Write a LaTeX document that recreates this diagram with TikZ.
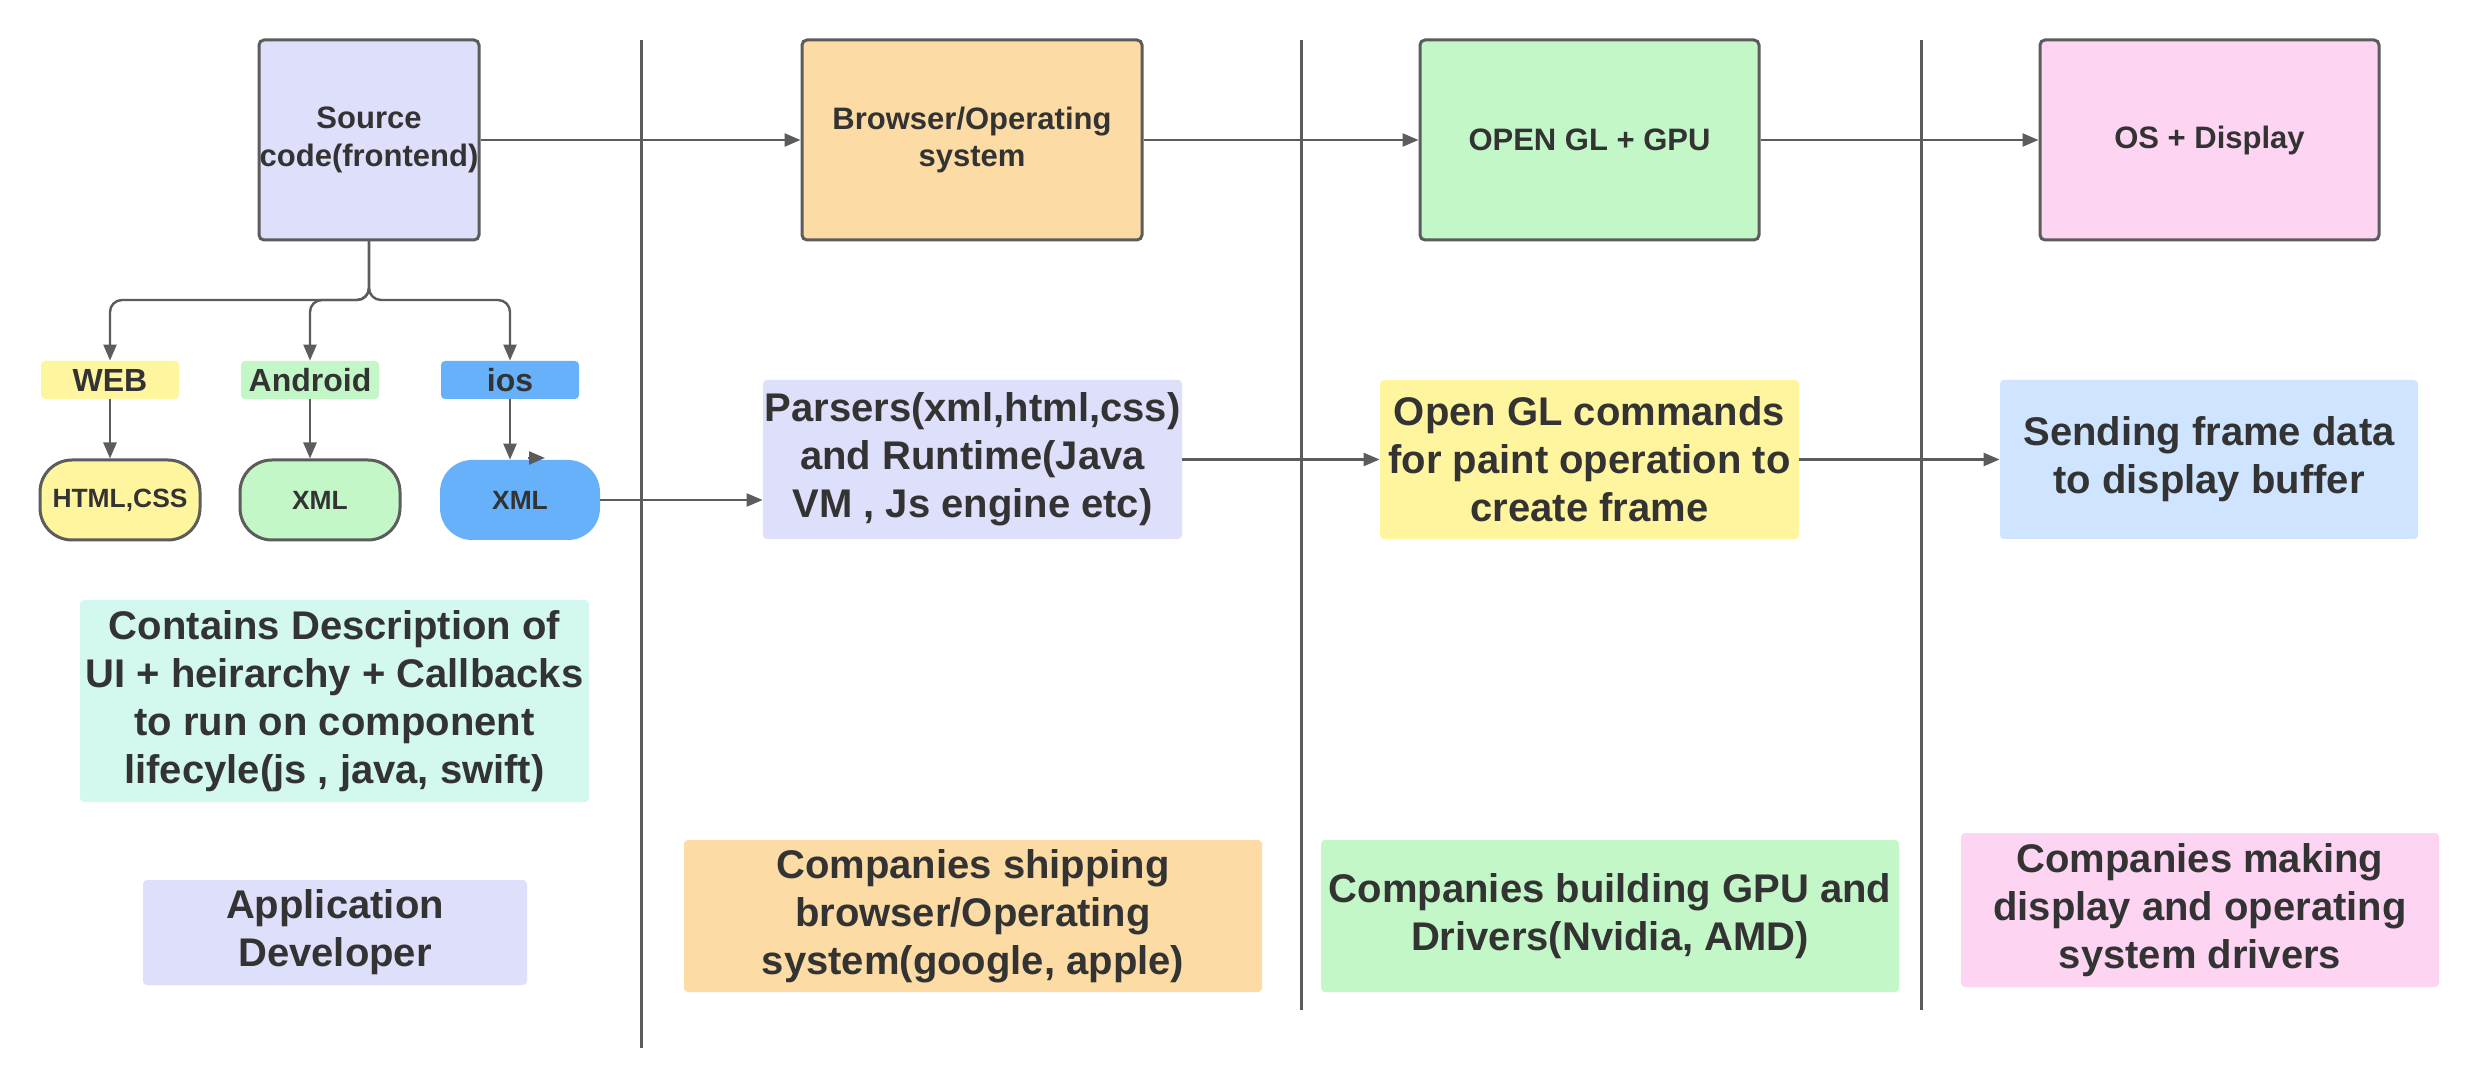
\documentclass[tikz,border=0pt]{standalone}
\usepackage{fontspec}
\setmainfont{Liberation Sans}
\usetikzlibrary{arrows.meta}
\definecolor{txt}{HTML}{333333}
\definecolor{ln}{HTML}{5C5C5C}
\definecolor{lav}{HTML}{DEDFFA}
\definecolor{peach}{HTML}{FCDBA4}
\definecolor{grn}{HTML}{C3F7C8}
\definecolor{pnk}{HTML}{FDD5F3}
\definecolor{ylw}{HTML}{FFF59E}
\definecolor{blu}{HTML}{66B1FA}
\definecolor{lblu}{HTML}{CFE4FF}
\definecolor{mint}{HTML}{D3F8EF}
\tikzset{
  bigbox/.style={draw=ln, line width=1.5pt, rounded corners=2.5pt, inner sep=0pt, align=center,
     text=txt, font=\fontsize{15.5}{18.6}\selectfont\bfseries},
  tag/.style={rounded corners=2pt, inner sep=0pt, text=txt, font=\fontsize{16}{19}\selectfont\bfseries,
     minimum width=69pt, minimum height=19pt},
  pill/.style={rounded corners=16pt, inner sep=0pt, text=txt, font=\fontsize{13.2}{16}\selectfont\bfseries,
     minimum width=80pt, minimum height=40pt},
  desc/.style={rounded corners=2pt, inner sep=0pt, align=center, text=txt,
     font=\fontsize{20}{24}\selectfont\bfseries},
  arr/.style={draw=ln, line width=1.2pt, -{Triangle[length=8pt, width=6.5pt]}},
  divider/.style={draw=ln, line width=1.5pt}
}
\begin{document}
\begin{tikzpicture}[x=0.5pt, y=-0.5pt]
\useasboundingbox (0,0) rectangle (2480,1090);
\fill[white] (0,0) rectangle (2480,1090);

% dividers
\coordinate (d1t) at (641,40);  \coordinate (d1b) at (641,1048);
\coordinate (d2t) at (1301,40); \coordinate (d2b) at (1301,1010);
\coordinate (d3t) at (1921,40); \coordinate (d3b) at (1921,1010);
\draw[divider] (d1t) -- (d1b);
\draw[divider] (d2t) -- (d2b);
\draw[divider] (d3t) -- (d3b);

% top row
\node[bigbox, fill=lav, minimum width=110pt, minimum height=100pt] (src) at (369,140) {Source\\code(frontend)};
\node[bigbox, fill=peach, minimum width=170pt, minimum height=100pt] (bro) at (972,140) {Browser/Operating\\system};
\node[bigbox, fill=grn, minimum width=169.5pt, minimum height=100pt] (gl) at (1589.5,140) {OPEN GL + GPU};
\node[bigbox, fill=pnk, minimum width=169.5pt, minimum height=100pt] (os) at (2209.5,140) {OS + Display};

% platform tags
\node[tag, fill=ylw] (web) at (110,380) {WEB};
\node[tag, fill=grn] (andr) at (310,380) {Android};
\node[tag, fill=blu] (ios) at (510,380) {ios};

% pills
\node[pill, fill=ylw, draw=ln, line width=1.5pt] (html) at (120,500) {HTML,CSS};
\node[pill, fill=grn, draw=ln, line width=1.5pt] (xmla) at (320,500) {XML};
\node[pill, fill=blu] (xmli) at (520,500) {XML};

% second row
\node[desc, fill=lav, minimum width=209.5pt, minimum height=79.5pt] (pars) at (972.5,459.5) {Parsers(xml,html,css)\\and Runtime(Java\\VM , Js engine etc)};
\node[desc, fill=ylw, minimum width=209.5pt, minimum height=79.5pt] (glc) at (1589.5,459.5) {Open GL commands\\for paint operation to\\create frame};
\node[desc, fill=lblu, minimum width=209pt, minimum height=79.5pt] (send) at (2209,459.5) {Sending frame data\\to display buffer};

% descriptions
\node[desc, fill=mint, minimum width=254.5pt, minimum height=101pt] (cont) at (334.5,701) {Contains Description of\\UI + heirarchy + Callbacks\\to run on component\\lifecyle(js , java, swift)};
\node[desc, fill=lav, minimum width=192pt, minimum height=52.5pt] (appd) at (335,932.5) {Application\\Developer};
\node[desc, fill=peach, minimum width=289pt, minimum height=76pt] (cship) at (973,916) {Companies shipping\\browser/Operating\\system(google, apple)};
\node[desc, fill=grn, minimum width=289pt, minimum height=76pt] (cgpu) at (1610,916) {Companies building GPU and\\Drivers(Nvidia, AMD)};
\node[desc, fill=pnk, minimum width=239pt, minimum height=77pt] (cmak) at (2200,910) {Companies making\\display and operating\\system drivers};

% top connectors
\draw[arr] (src.east) -- (bro.west);
\draw[arr] (bro.east) -- (gl.west);
\draw[arr] (gl.east) -- (os.west);

% tree
\coordinate (bus) at (369,300);
\draw[arr, rounded corners=6pt] (src.south) -- (bus) -| (web.north);
\draw[arr, rounded corners=6pt] (src.south) -- (bus) -| (andr.north);
\draw[arr, rounded corners=6pt] (src.south) -- (bus) -| (ios.north);
\draw[arr] (web.south) -- (web.south |- html.north);
\draw[arr] (andr.south) -- (andr.south |- xmla.north);
\draw[arr] (ios.south) -- (ios.south |- xmli.north);
\coordinate (stray) at (528,458);
\draw[arr] (stray) -- ++(17,0);

% second row connectors
\draw[arr] (xmli.east) -- (xmli.east -| pars.west);
\draw[arr] (pars.east) -- (glc.west);
\draw[arr] (glc.east) -- (send.west);
\end{tikzpicture}
\end{document}
